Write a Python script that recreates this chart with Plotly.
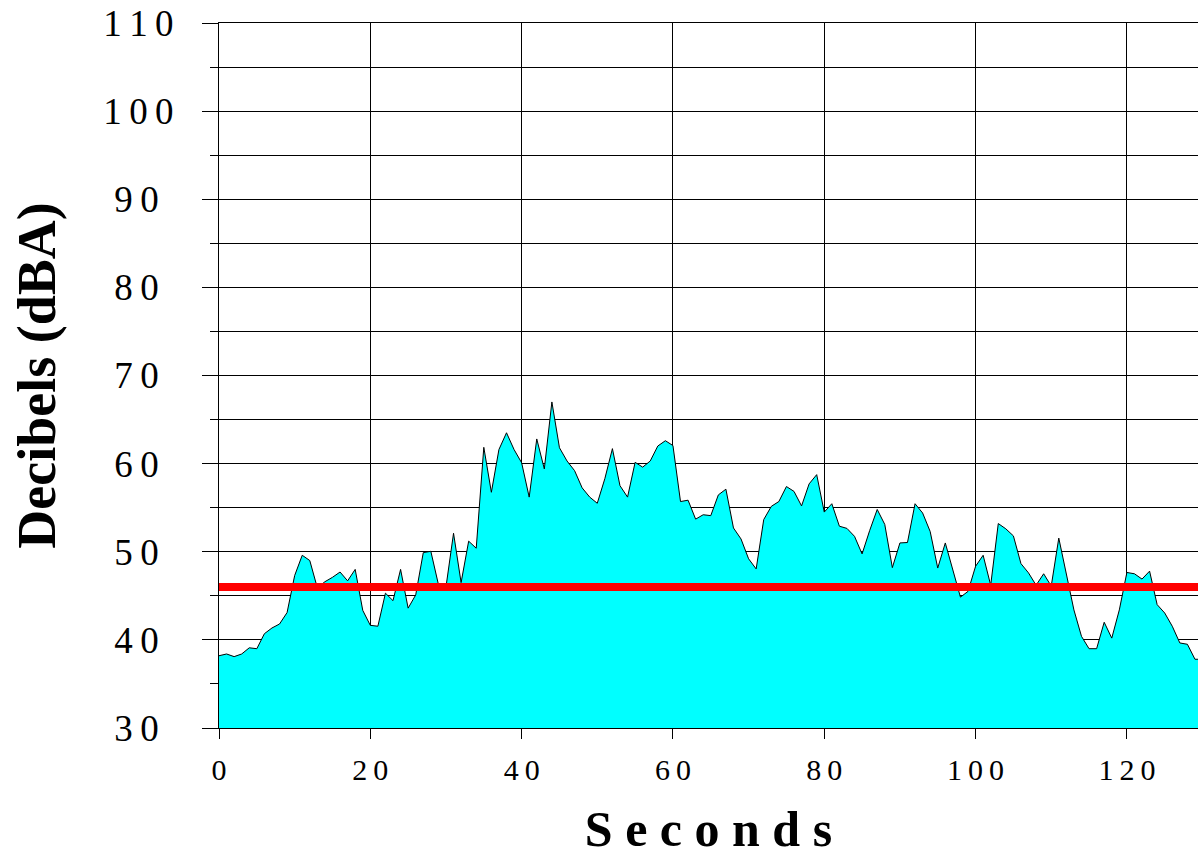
import plotly.graph_objects as go

# Data
seconds = list(range(0, 131))
decibels = [
    38.2, 38.4, 38.1, 38.4, 39.1, 39.0, 40.7, 41.35, 41.8, 43.1,
    47.3, 49.6, 49.0, 45.9, 46.6, 47.1, 47.7, 46.7, 48.0, 43.35,
    41.65, 41.55, 45.3, 44.45, 48.0, 43.6, 45.1, 49.9, 50.05, 46.3,
    46.0, 52.1, 46.5, 51.2, 50.4, 61.85, 56.75, 61.6, 63.5, 61.6,
    60.1, 56.2, 62.8, 59.4, 67.0, 61.8, 60.3, 59.2, 57.25, 56.2,
    55.5, 58.3, 61.7, 57.5, 56.2, 60.15, 59.6, 60.3, 62.0, 62.6,
    62.05, 55.7, 55.85, 53.7, 54.2, 54.1, 56.45, 57.1, 52.7, 51.45,
    49.2, 48.05, 53.65, 55.15, 55.7, 57.4, 56.85, 55.2, 57.7, 58.75,
    54.5, 55.45, 52.9, 52.65, 51.75, 49.75, 52.4, 54.8, 53.1, 48.2,
    51.0, 51.05, 55.45, 54.4, 52.3, 48.15, 51.0, 47.9, 44.85, 45.5,
    48.35, 49.6, 46.2, 53.2, 52.6, 51.8, 48.65, 47.6, 46.2, 47.5,
    46.1, 51.55, 47.6, 43.4, 40.4, 39.0, 39.0, 42.0, 40.2, 43.4,
    47.65, 47.5, 46.9, 47.8, 44.0, 43.05, 41.55, 39.65, 39.5, 37.8,
    37.8,
]
threshold_x = [0, 130]
threshold_db = [46, 46]

x_tickvals = [0, 20, 40, 60, 80, 100, 120]
y_tickvals = [30, 40, 50, 60, 70, 80, 90, 100, 110]
x_ticktext = ["\u2009".join(str(v)) for v in x_tickvals]
# centre 2-digit labels under the 3-digit ones (trailing thin spaces)
y_ticktext = ["\u2009".join(str(v)) + ("" if v >= 100 else "\u2009\u2009") for v in y_tickvals]

FONT = "Liberation Serif, Times New Roman, serif"

fig = go.Figure()
fig.add_trace(go.Scatter(
    x=seconds, y=decibels, mode="lines",
    line=dict(color="black", width=1),
    fill="tozeroy", fillcolor="#00FFFF",
    showlegend=False, hoverinfo="skip",
))
fig.add_trace(go.Scatter(
    x=threshold_x, y=threshold_db, mode="lines",
    line=dict(color="#FF0000", width=8),
    showlegend=False, hoverinfo="skip",
))

fig.update_layout(
    width=1198, height=857, autosize=False,
    margin=dict(l=219, r=0, t=23, b=129, pad=0),
    paper_bgcolor="white", plot_bgcolor="white",
    font=dict(family=FONT, color="black"),
)
fig.update_xaxes(
    range=[0, 129.4],
    tickvals=x_tickvals, ticktext=x_ticktext,
    tickfont=dict(size=30, family=FONT),
    ticks="outside", ticklen=10, tickcolor="black", tickwidth=1,
    ticklabelstandoff=5,
    showgrid=True, gridcolor="black", gridwidth=1,
    showline=True, linecolor="black", linewidth=1, mirror=True,
    zeroline=False,
    title=dict(text="<b>S e c o n d s</b>", font=dict(size=50, family=FONT), standoff=37),
)
fig.update_yaxes(
    range=[30, 110],
    tickvals=y_tickvals, ticktext=y_ticktext,
    tickfont=dict(size=37, family=FONT),
    ticks="outside", ticklen=16, tickcolor="black", tickwidth=1,
    showgrid=True, gridcolor="black", gridwidth=1,
    minor=dict(dtick=5, tick0=0, ticks="outside", ticklen=8, tickcolor="black",
               showgrid=True, gridcolor="black", gridwidth=1),
    showline=True, linecolor="black", linewidth=1,
    zeroline=False,
    ticklabelstandoff=21,
    title=dict(text="<b>Decibels (dBA)</b>", font=dict(size=54, family=FONT), standoff=30),
)

fig.write_html(
    "out.html",
    config={"displayModeBar": False},
    post_script="document.body.style.margin='0';",
)
